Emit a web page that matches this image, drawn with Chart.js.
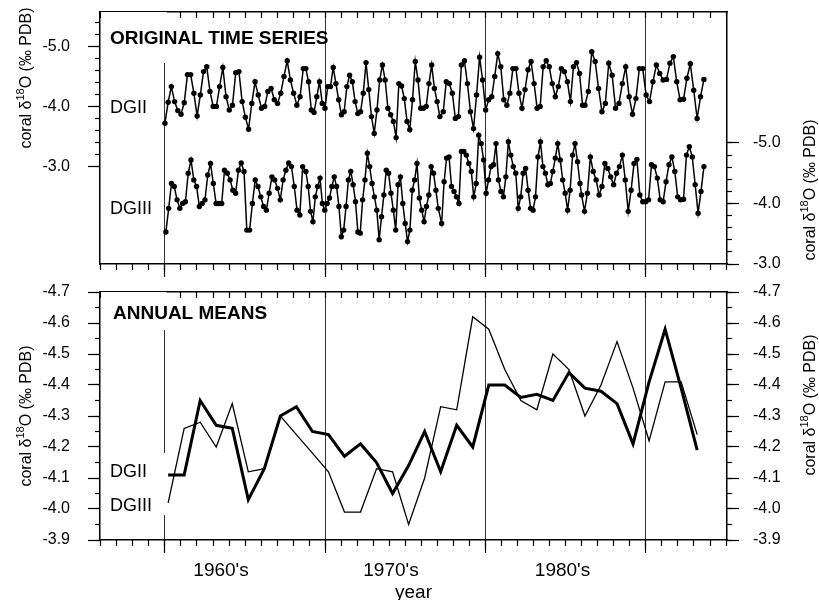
<!DOCTYPE html>
<html>
<head>
<meta charset="utf-8">
<script src="https://cdn.jsdelivr.net/npm/chart.js@4/dist/chart.umd.min.js"></script>
<style>
    html, body { margin: 0; padding: 0; background: #fff; overflow: hidden; }
    #wrap { position: relative; width: 819px; height: 600px; }
    #topPanel { position: absolute; left: 0; top: 0; }
    #bottomPanel { position: absolute; left: 0; top: 280px; }
</style>
</head>
<body>
<div id="wrap">
    <canvas id="topPanel" width="819" height="280"></canvas>
    <canvas id="bottomPanel" width="819" height="320"></canvas>
</div>
<script>
// ---- data ----

// original time series (coral d18O, per mil PDB), in sample order
const dgiiValues = [
    -3.73, -4.08, -4.34, -4.09, -3.94, -3.88, -4.07, -4.54, -4.54, -4.23, -3.85, -4.20, -4.59, -4.67, -4.26,
    -4.01, -4.01, -4.34, -4.66, -4.17, -3.95, -4.03, -4.57, -4.59, -4.09, -3.83, -3.63, -4.06, -4.42, -4.20,
    -3.98, -4.01, -4.26, -4.31, -4.12, -4.06, -4.23, -4.51, -4.77, -4.45, -4.23, -4.03, -4.17, -4.64,
    -4.64, -4.42, -3.95, -3.91, -4.17, -4.42, -4.06, -3.98, -4.34, -4.34, -4.66, -4.39, -4.12, -3.87, -3.92,
    -4.34, -4.53, -4.42, -4.09, -3.89, -3.92, -4.23, -4.74, -4.29, -3.84, -3.56, -3.95, -4.45, -4.70, -4.45,
    -3.98, -3.87, -3.76, -3.49, -4.39, -4.35, -4.14, -3.76, -3.62, -4.12, -4.76, -4.45, -3.98, -3.98, -4.01,
    -4.39, -4.70, -4.31, -4.09, -3.84,
    -3.92, -4.42, -4.39, -4.23, -3.81, -3.84, -4.70, -4.77, -4.39, -3.92, -3.64, -4.20, -4.83, -4.45, -3.95,
    -4.12, -4.17, -4.51, -4.89, -4.67, -4.12, -4.03, -4.23, -4.64, -4.64, -4.23, -3.98, -4.29, -4.62, -4.76,
    -4.39, -3.98, -4.01, -4.67, -4.77, -4.67, -4.39, -4.17, -4.34, -4.64, -4.59, -4.42, -4.09, -4.67, -4.74,
    -4.56, -4.03,
    -4.03, -4.26, -4.92, -4.76, -4.31, -3.92, -4.06, -4.73, -4.53, -3.98, -4.06, -4.39, -4.67, -4.17, -3.88,
    -4.14, -4.64, -4.64, -4.20, -4.09, -4.42, -4.70, -4.56, -4.45, -4.46, -4.73, -4.84, -4.42, -4.12, -4.13,
    -4.48, -4.72, -4.28, -3.81, -4.17, -4.46
];
const dgiiiValues = [
    -3.53, -3.92, -4.33, -4.28, -4.06, -3.92, -4.00, -4.03, -4.50, -4.72, -4.39, -4.28, -3.95, -4.00, -4.06,
    -4.47, -4.66, -4.33, -4.00, -4.00, -4.00, -4.55, -4.50, -4.39, -4.22, -4.17, -4.55, -4.67, -4.53, -3.56,
    -3.56, -4.00, -4.39, -4.28, -4.11, -3.95, -3.89, -4.17, -4.44, -4.39, -4.25, -4.06, -4.39, -4.55, -4.67,
    -4.61, -4.28, -3.89, -3.81, -4.61,
    -4.53, -4.28, -3.87, -3.70, -4.11, -4.28, -4.42, -4.00, -3.89, -4.00, -4.09, -4.28, -4.44, -4.28, -3.95,
    -3.45, -3.56, -3.95, -4.39, -4.53, -4.31, -4.03, -3.53, -3.51, -4.06, -4.39, -4.83, -4.61, -4.33, -4.11,
    -3.89, -3.40, -3.78, -4.14, -4.55, -4.50, -4.17, -3.89, -3.56, -4.31, -4.44, -4.00, -3.67, -3.37, -3.56,
    -4.22, -4.39, -4.66, -4.09, -3.89, -3.70, -3.95, -4.14, -4.61, -4.50, -4.22, -3.92,
    -3.67, -4.36, -4.75, -4.77, -4.28, -4.20, -4.11, -4.00, -4.86, -4.86, -4.80, -4.66, -4.53, -4.11, -4.33,
    -5.13, -4.99, -4.72, -4.17, -4.39, -4.61, -4.64, -4.99, -4.39, -4.20, -4.11, -4.44, -5.02, -4.80, -4.61,
    -4.50, -3.92, -4.11, -4.50, -4.58, -4.22, -3.92, -3.89, -4.11, -4.77, -5.02, -4.61, -4.50, -4.31, -4.33,
    -4.53, -4.75, -4.99, -4.72, -4.39, -4.17, -3.89, -4.22, -4.80, -4.99, -4.69, -4.33,
    -4.14, -3.87, -4.17, -4.77, -4.53, -4.39, -4.14, -4.28, -4.66, -4.58, -4.44, -4.31, -4.50, -4.61, -4.80,
    -4.39, -3.87, -4.22, -4.66, -4.73, -4.14, -4.03, -4.03, -4.06, -4.64, -4.61, -4.42, -4.06, -4.03, -4.36,
    -4.64, -4.77, -4.53, -4.11, -4.06, -4.07, -4.80, -4.94, -4.77, -4.31, -3.84, -4.20, -4.61
];

// age model tie points: [sample index, decimal year]
const dgiiTies = [[0, 1958.00], [43, 1966.63], [44, 1966.79], [93, 1975.15],
                  [94, 1975.36], [140, 1984.05], [141, 1984.20], [176, 1991.62]];
const dgiiiTies = [[0, 1958.06], [49, 1966.59], [50, 1966.79], [106, 1975.05],
                   [107, 1975.26], [163, 1983.89], [164, 1983.99], [206, 1991.62]];

// annual means
const annualYears = [1958, 1959, 1960, 1961, 1962, 1963, 1964, 1965, 1966, 1967, 1968, 1969, 1970, 1971, 1972,
                     1973, 1974, 1975, 1976, 1977, 1978, 1979, 1980, 1981, 1982, 1983, 1984, 1985, 1986, 1987,
                     1988, 1989, 1990, 1991];
const annualCentre = 0.2; // annual bands are centred just after the year mark
const annualDGII = [-4.11, -4.11, -4.35, -4.27, -4.26, -4.03, -4.13, -4.30, -4.33, -4.25, -4.24, -4.17, -4.21,
                    -4.15, -4.05, -4.14, -4.25, -4.12, -4.27, -4.20, -4.40, -4.40, -4.36, -4.37, -4.35, -4.44,
                    -4.39, -4.38, -4.34, -4.21, -4.41, -4.58, -4.39, -4.19];
const annualDGIII = [-4.02, -4.26, -4.28, -4.20, -4.34, -4.12, -4.13, -4.30, -4.24, -4.18, -4.12, -3.99, -3.99,
                     -4.13, -4.12, -3.95, -4.10, -4.33, -4.32, -4.62, -4.58, -4.45, -4.35, -4.32, -4.50, -4.45,
                     -4.30, -4.40, -4.54, -4.39, -4.22, -4.41, -4.41, -4.24];

// axes
const yearMin = 1953.95;
const yearMax = 1993.06;
const yearTicks = Array.from({ length: 40 }, (_, i) => 1954 + i);
const decadeLines = [1958, 1968, 1978, 1988];
const decadeLabels = ["1960's", "1970's", "1980's"];
const decadeLabelYears = [1961.5, 1972.1, 1982.8];

const topLeftRange = [-5.583, -1.383];
const topLeftLabels = [-5.0, -4.0, -3.0];
const topLeftMinor = [-5.4, -5.2, -5.0, -4.8, -4.6, -4.4, -4.2, -4.0, -3.8, -3.6, -3.4, -3.2, -3.0];
const topRightRange = [-7.165, -3.0];
const topRightLabels = [-5.0, -4.0, -3.0];
const topRightMinor = [-5.0, -4.8, -4.6, -4.4, -4.2, -4.0, -3.8, -3.6, -3.4, -3.2, -3.0];
const bottomRange = [-4.7, -3.9];
const bottomLabels = [-4.7, -4.6, -4.5, -4.4, -4.3, -4.2, -4.1, -4.0, -3.9];
const bottomMinor = [-4.7, -4.65, -4.6, -4.55, -4.5, -4.45, -4.4, -4.35, -4.3, -4.25, -4.2, -4.15, -4.1,
                     -4.05, -4.0, -3.95, -3.9];

// ---- helpers ----
const FONT = "'Liberation Sans', Arial, Helvetica, sans-serif";
const INK = '#000';

function datedSeries(values, ties) {
    return values.map((v, i) => {
        let k = 0;
        while (k < ties.length - 2 && i > ties[k + 1][0]) k++;
        const [i0, t0] = ties[k];
        const [i1, t1] = ties[k + 1];
        return { x: t0 + (t1 - t0) * (i - i0) / (i1 - i0), y: v };
    });
}

// fixed axis sizes, and no extra room for labels that sit at the ends
const fixedSize = size => scale => {
    if (scale.isHorizontal()) scale.height = size; else scale.width = size;
    scale.paddingTop = 0;
    scale.paddingBottom = 0;
    scale.paddingLeft = 0;
    scale.paddingRight = 0;
};
const tickList = values => scale => {
    scale.ticks = values.map(v => ({ value: v }));
};
const isDecadeLine = ctx => ctx.tick && decadeLines.some(d => Math.abs(d - ctx.tick.value) < 1e-6);

function xScales(withLabels, height) {
    const major = withLabels
        ? decadeLines.concat(decadeLabelYears).sort((a, b) => a - b)
        : decadeLines;
    return {
        xMinor: {
            type: 'linear', position: 'bottom', weight: 0, min: yearMin, max: yearMax,
            afterBuildTicks: tickList(yearTicks), afterFit: fixedSize(0),
            grid: { drawOnChartArea: false, tickLength: 6, tickColor: INK, tickWidth: 1.2 },
            border: { display: false },
            ticks: { display: false }
        },
        x: {
            type: 'linear', position: 'bottom', weight: 1, min: yearMin, max: yearMax,
            afterBuildTicks: tickList(major), afterFit: fixedSize(height),
            grid: {
                color: ctx => isDecadeLine(ctx) ? '#333' : 'rgba(0,0,0,0)',
                tickColor: ctx => isDecadeLine(ctx) ? INK : 'rgba(0,0,0,0)',
                lineWidth: 1, tickLength: 13, tickWidth: 1.2
            },
            border: { display: true, color: INK, width: 1.5 },
            ticks: {
                display: withLabels, autoSkip: false, maxRotation: 0, padding: 6,
                color: INK, font: { family: FONT, size: 19 },
                callback: v => {
                    const k = decadeLabelYears.findIndex(d => Math.abs(d - v) < 1e-6);
                    return k >= 0 ? decadeLabels[k] : '';
                }
            },
            title: {
                display: withLabels, text: 'year', color: INK, padding: 0,
                font: { family: FONT, size: 19, lineHeight: 0.8 }
            }
        },
        xTop: {
            type: 'linear', position: 'top', min: yearMin, max: yearMax,
            afterBuildTicks: tickList(yearTicks), afterFit: fixedSize(0),
            grid: { drawOnChartArea: false, tickLength: -6, tickColor: INK, tickWidth: 1.2 },
            border: { display: true, color: INK, width: 1.5 },
            ticks: { display: false }
        }
    };
}

function yScales(id, side, range, labels, minor, width, padding) {
    const out = {};
    out[id] = {
        type: 'linear', position: side, weight: 1, reverse: true, min: range[0], max: range[1],
        afterBuildTicks: tickList(labels), afterFit: fixedSize(width),
        grid: { drawOnChartArea: false, tickLength: 12, tickColor: INK, tickWidth: 1.2 },
        border: { display: true, color: INK, width: 1.5 },
        ticks: {
            padding: padding, color: INK, font: { family: FONT, size: 16 },
            callback: v => v.toFixed(1)
        }
    };
    out[id + 'Minor'] = {
        type: 'linear', position: side, weight: 0, reverse: true, min: range[0], max: range[1],
        afterBuildTicks: tickList(minor), afterFit: fixedSize(0),
        grid: { drawOnChartArea: false, tickLength: 5, tickColor: INK, tickWidth: 1.2 },
        border: { display: false },
        ticks: { display: false }
    };
    return out;
}

// rotated axis title with a raised "18"
function drawAxisTitle(ctx, cx, cy) {
    const big = '16px ' + FONT;
    const small = '11px ' + FONT;
    const parts = [['coral \u03b4', big, 0], ['18', small, -6], ['O (\u2030 PDB)', big, 0]];
    ctx.save();
    ctx.translate(cx, cy);
    ctx.rotate(-Math.PI / 2);
    ctx.fillStyle = INK;
    ctx.textBaseline = 'middle';
    let total = 0;
    parts.forEach(p => { ctx.font = p[1]; total += ctx.measureText(p[0]).width; });
    let x = -total / 2;
    parts.forEach(p => {
        ctx.font = p[1];
        ctx.fillText(p[0], x, p[2]);
        x += ctx.measureText(p[0]).width;
    });
    ctx.restore();
}

// panel labels (with the white backing the original figure uses) and axis titles
function panelText(spec) {
    return {
        id: 'panelText',
        beforeDatasetsDraw(chart) {
            const ctx = chart.ctx;
            const area = chart.chartArea;
            ctx.save();
            ctx.fillStyle = '#fff';
            spec.boxes.forEach(b => ctx.fillRect(area.left + b[0], area.top + b[1], b[2], b[3]));
            ctx.fillStyle = INK;
            ctx.textBaseline = 'middle';
            ctx.textAlign = 'left';
            spec.labels.forEach(l => {
                ctx.font = (l.bold ? 'bold ' : '') + l.size + 'px ' + FONT;
                ctx.fillText(l.text, area.left + l.dx, area.top + l.dy);
            });
            ctx.restore();
            spec.titles.forEach(t => drawAxisTitle(ctx, t[0], t[1]));
        }
    };
}

const baseOptions = {
    responsive: false,
    animation: false,
    layout: { padding: { top: 12, left: 0, right: 0, bottom: 0 } },
    plugins: { legend: { display: false }, tooltip: { enabled: false } }
};

// ---- top panel: original time series ----
new Chart(document.getElementById('topPanel'), {
    type: 'line',
    data: {
        datasets: [
            {
                label: 'DGII', data: datedSeries(dgiiValues, dgiiTies), xAxisID: 'x', yAxisID: 'yLeft',
                borderColor: INK, borderWidth: 1.5, pointRadius: 2.7, pointBackgroundColor: INK,
                pointBorderWidth: 0, tension: 0
            },
            {
                label: 'DGIII', data: datedSeries(dgiiiValues, dgiiiTies), xAxisID: 'x', yAxisID: 'yRight',
                borderColor: INK, borderWidth: 1.5, pointRadius: 2.7, pointBackgroundColor: INK,
                pointBorderWidth: 0, tension: 0
            }
        ]
    },
    options: Object.assign({}, baseOptions, {
        scales: Object.assign(
            xScales(false, 16),
            yScales('yLeft', 'left', topLeftRange, topLeftLabels, topLeftMinor, 100, 18),
            yScales('yRight', 'right', topRightRange, topRightLabels, topRightMinor, 92, 14)
        )
    }),
    plugins: [panelText({
        boxes: [[1, 0, 66, 51]],
        labels: [
            { text: 'ORIGINAL TIME SERIES', dx: 10, dy: 27, size: 19, bold: true },
            { text: 'DGII', dx: 10, dy: 96, size: 18 },
            { text: 'DGIII', dx: 10, dy: 197, size: 18 }
        ],
        titles: [[27, 78], [811, 190]]
    })]
});

// ---- bottom panel: annual means ----
const annualX = annualYears.map(y => y + annualCentre);
new Chart(document.getElementById('bottomPanel'), {
    type: 'line',
    data: {
        datasets: [
            {
                label: 'DGII', data: annualDGII.map((v, i) => ({ x: annualX[i], y: v })),
                xAxisID: 'x', yAxisID: 'yLeft', borderColor: INK, borderWidth: 3,
                pointRadius: 0, tension: 0
            },
            {
                label: 'DGIII', data: annualDGIII.map((v, i) => ({ x: annualX[i], y: v })),
                xAxisID: 'x', yAxisID: 'yLeft', borderColor: INK, borderWidth: 1.3,
                pointRadius: 0, tension: 0
            }
        ]
    },
    options: Object.assign({}, baseOptions, {
        scales: Object.assign(
            xScales(true, 60),
            yScales('yLeft', 'left', bottomRange, bottomLabels, bottomMinor, 100, 18),
            yScales('yRight', 'right', bottomRange, bottomLabels, bottomMinor, 92, 14)
        )
    }),
    plugins: [panelText({
        boxes: [[1, 0, 65.5, 38], [1, 161, 65.5, 62]],
        labels: [
            { text: 'ANNUAL MEANS', dx: 13, dy: 22, size: 19, bold: true },
            { text: 'DGII', dx: 10, dy: 180, size: 18 },
            { text: 'DGIII', dx: 10, dy: 214, size: 18 }
        ],
        titles: [[27, 136], [811, 125]]
    })]
});
</script>
</body>
</html>
